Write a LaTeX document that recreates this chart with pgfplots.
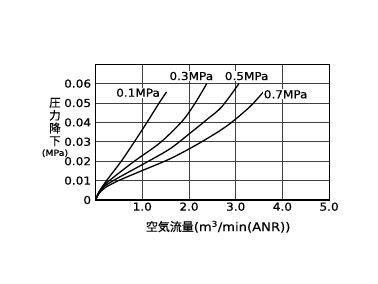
\documentclass[border=0pt]{standalone}
\usepackage{fontspec}
\setmainfont{DejaVu Sans}[FakeStretch=1.1, FakeBold=0.5]
\newfontfamily\jp{Noto Sans CJK JP}[FakeBold=0.5]
\usepackage{pgfplots}
\pgfplotsset{compat=1.18}
\tikzset{curve/.style={black, line width=1.3bp, smooth, mark=none}}
\begin{document}
\begin{tikzpicture}
\useasboundingbox (0,0) rectangle (378bp,284bp);
\begin{axis}[
  at={(95.6bp,84bp)}, anchor=south west,
  scale only axis, width=233.5bp, height=135.8bp,
  xmin=0, xmax=5, ymin=0, ymax=0.07,
  scaled y ticks=false, scaled x ticks=false,
  xtick={1,2,3,4,5}, xticklabels={1.0,2.0,3.0,4.0,5.0},
  ytick={0,0.01,0.02,0.03,0.04,0.05,0.06,0.07},
  yticklabels={0,0.01,0.02,0.03,0.04,0.05,0.06,},
  grid=major, major grid style={draw=black!75, line width=0.7bp},
  axis line style={line width=1.1bp},
  major tick length=0pt,
  tick label style={font=\fontsize{11}{12}\selectfont},
  /pgf/number format/assume math mode=true,
  xticklabel style={yshift=1bp},
  yticklabel style={xshift=-1bp},
  xlabel={{\jp 空気流量}(m\textsuperscript{3}/min(ANR))},
  xlabel style={at={(axis description cs:0.525,-0.197)}, anchor=center, font=\fontsize{12}{13}\selectfont},
  ylabel={{\jp 圧}\\{\jp 力}\\{\jp 降}\\{\jp 下}\\[-2bp]{\fontsize{8.5}{9}\selectfont(MPa)}},
  ylabel style={rotate=-90, at={(axis description cs:-0.174,0.534)}, anchor=center, align=center, font=\fontsize{11.5}{12.8}\selectfont},
]
\addplot[curve] coordinates {(0,0) (0.05,0.0032) (0.12,0.006) (0.25,0.0105) (0.55,0.02) (0.83,0.03) (1.10,0.04) (1.36,0.05) (1.52,0.0557)};
\addplot[curve] coordinates {(0,0) (0.05,0.0031) (0.15,0.0068) (0.32,0.0105) (0.83,0.02) (1.38,0.0295) (1.85,0.0405) (2.12,0.0495) (2.38,0.060)};
\addplot[curve] coordinates {(0,0) (0.06,0.0031) (0.18,0.0068) (0.40,0.0103) (1.11,0.0197) (1.60,0.0265) (2.0,0.034) (2.40,0.0418) (2.70,0.048) (3.07,0.060)};
\addplot[curve] coordinates {(0,0) (0.06,0.0029) (0.2,0.0063) (0.51,0.0102) (1.0,0.0152) (1.60,0.0213) (2.2,0.029) (2.8,0.038) (3.3,0.048) (3.62,0.0565)};
\node[fill=white, inner sep=1bp, font=\fontsize{11}{12}\selectfont] at (axis cs:0.91,0.0553) {0.1MPa};
\node[fill=white, inner sep=1bp, font=\fontsize{11}{12}\selectfont] at (axis cs:2.05,0.0639) {0.3MPa};
\node[fill=white, inner sep=1bp, font=\fontsize{11}{12}\selectfont] at (axis cs:3.235,0.0639) {0.5MPa};
\node[fill=white, inner sep=1bp, font=\fontsize{11}{12}\selectfont] at (axis cs:4.07,0.0545) {0.7MPa};
\end{axis}
\end{tikzpicture}
\end{document}
